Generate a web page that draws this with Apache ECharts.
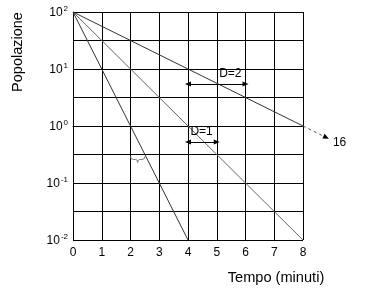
<!DOCTYPE html>
<html><head><meta charset="utf-8">
<script src="https://cdn.jsdelivr.net/npm/echarts@6/dist/echarts.min.js"></script>
<style>html,body{margin:0;padding:0;background:#fff}#c{width:369px;height:308px}</style>
</head><body><div id="c"></div>
<script>
// ---- data ----
const xTicks = [0, 1, 2, 3, 4, 5, 6, 7, 8];
const yTickExponents = [-2, -1, 0, 1, 2];
const xAxisTitle = 'Tempo (minuti)';
const yAxisTitle = 'Popolazione';
const lineSteep = [[0, 100], [4, 0.01]];
const lineMiddle = [[0, 100], [8, 0.01]];
const lineTop = [[0, 100], [8, 1]];
const extension = [8, 1, 8.9, 0.596];
const extensionLabel = '16';
const arrowD2 = [[4, 5.46], [6, 5.46]];
const arrowD2Label = 'D=2';
const arrowD1 = [[4, 0.525], [5, 0.525]];
const arrowD1Label = 'D=1';
const brace = [2, 0.316, 2.5];

const chart = echarts.init(document.getElementById('c'), null, {renderer: 'canvas'});
const FONT = 'Liberation Sans, Arial, sans-serif';

function arrowLine(pts, text) {
  return [
    {coord: pts[0], symbol: 'triangle', symbolSize: [5, 6]},
    {coord: pts[1], symbol: 'triangle', symbolSize: [5, 6],
      label: {show: true, formatter: text, position: 'insideEndTop', distance: 4,
        color: '#000', fontSize: 12, fontFamily: FONT},
      lineStyle: {color: '#000', width: 1, type: 'solid'}}
  ];
}

chart.setOption({
  animation: false,
  grid: {left: 73, right: 66, top: 12, bottom: 68},
  xAxis: {
    type: 'value', min: xTicks[0], max: xTicks[xTicks.length - 1], interval: 1,
    axisLine: {lineStyle: {color: '#000', width: 1}},
    axisTick: {show: false},
    axisLabel: {color: '#000', fontSize: 12, fontFamily: FONT, margin: 7},
    splitLine: {show: true, lineStyle: {color: '#000', width: 1}}
  },
  yAxis: [{
    type: 'log', logBase: 10,
    min: Math.pow(10, yTickExponents[0]), max: Math.pow(10, yTickExponents[yTickExponents.length - 1]),
    axisLine: {show: true, lineStyle: {color: '#000', width: 1}},
    axisTick: {show: false},
    splitLine: {show: false},
    axisLabel: {
      margin: 5, color: '#000', fontFamily: FONT,
      formatter: function (v) {
        const e = Math.round(Math.log10(v));
        return '{b|10}{e|' + (e < 0 ? '-' + (-e) : e) + '}';
      },
      rich: {
        b: {fontSize: 12, fontFamily: FONT, color: '#000', lineHeight: 14, verticalAlign: 'bottom'},
        e: {fontSize: 8, fontFamily: FONT, color: '#000', lineHeight: 14, verticalAlign: 'top', padding: [0, 0, 5, 1]}
      }
    }
  }, {
    type: 'value', min: yTickExponents[0], max: yTickExponents[yTickExponents.length - 1], interval: 0.5,
    position: 'left',
    axisLine: {show: false}, axisTick: {show: false}, axisLabel: {show: false},
    splitLine: {show: true, lineStyle: {color: '#000', width: 1}}
  }],
  graphic: [{
    type: 'text', x: 18, y: 52, rotation: Math.PI / 2,
    style: {text: yAxisTitle, fill: '#000', font: '14.5px ' + FONT, textAlign: 'center', textVerticalAlign: 'middle'}
  }, {
    type: 'text', x: 276, y: 278,
    style: {text: xAxisTitle, fill: '#000', font: '14.6px ' + FONT, textAlign: 'center', textVerticalAlign: 'middle'}
  }],
  series: [{
    type: 'line', data: lineMiddle, showSymbol: false, symbol: 'none',
    lineStyle: {color: '#666', width: 1}
  }, {
    type: 'line', data: lineSteep, showSymbol: false, symbol: 'none',
    lineStyle: {color: '#333', width: 1}
  }, {
    type: 'line', data: lineTop, showSymbol: false, symbol: 'none',
    lineStyle: {color: '#333', width: 1},
    markLine: {
      silent: true, animation: false, precision: 4,
      lineStyle: {color: '#000', width: 1, type: 'solid'},
      itemStyle: {color: '#000'},
      emphasis: {disabled: true},
      data: [
        arrowLine(arrowD2, arrowD2Label),
        arrowLine(arrowD1, arrowD1Label)
      ]
    }
  }, {
    type: 'custom', silent: true, clip: false,
    data: [extension],
    renderItem: function (params, api) {
      const p0 = api.coord([api.value(0), api.value(1)]);
      const p1 = api.coord([api.value(2), api.value(3)]);
      const ang = Math.atan2(p1[1] - p0[1], p1[0] - p0[0]);
      const L = 6, W = 2.6;
      const tip = [p1[0], p1[1]];
      const bx = tip[0] - L * Math.cos(ang), by = tip[1] - L * Math.sin(ang);
      const nx = -Math.sin(ang) * W, ny = Math.cos(ang) * W;
      return {type: 'group', children: [
        {type: 'line', shape: {x1: p0[0], y1: p0[1], x2: bx, y2: by},
          style: {stroke: '#555', lineWidth: 1, lineDash: [3, 3]}},
        {type: 'polygon', shape: {points: [tip, [bx + nx, by + ny], [bx - nx, by - ny]]},
          style: {fill: '#000', stroke: null}},
        {type: 'text', x: tip[0] + 4, y: tip[1] + 4,
          style: {text: extensionLabel, fill: '#000', font: '12px ' + FONT, textAlign: 'left', textVerticalAlign: 'middle'}}
      ]};
    }
  }, {
    type: 'custom', silent: true,
    data: [brace],
    renderItem: function (params, api) {
      const p0 = api.coord([api.value(0), api.value(1)]);
      const p1 = api.coord([api.value(2), api.value(1)]);
      const y = Math.round(p0[1]) + 0.5;
      const x0 = p0[0], x1 = p1[0], xm = (x0 + x1) / 2;
      const path = 'M' + x0 + ',' + (y + 1) +
        ' Q' + x0 + ',' + (y + 4) + ' ' + (x0 + 3) + ',' + (y + 4) +
        ' L' + (xm - 2) + ',' + (y + 4) +
        ' Q' + xm + ',' + (y + 4) + ' ' + xm + ',' + (y + 7) +
        ' Q' + xm + ',' + (y + 4) + ' ' + (xm + 2) + ',' + (y + 4) +
        ' L' + (x1 - 3) + ',' + (y + 4) +
        ' Q' + x1 + ',' + (y + 4) + ' ' + x1 + ',' + (y + 1);
      return {type: 'path', shape: {pathData: path},
        style: {stroke: '#777', fill: null, lineWidth: 1}};
    }
  }]
});
</script></body></html>
